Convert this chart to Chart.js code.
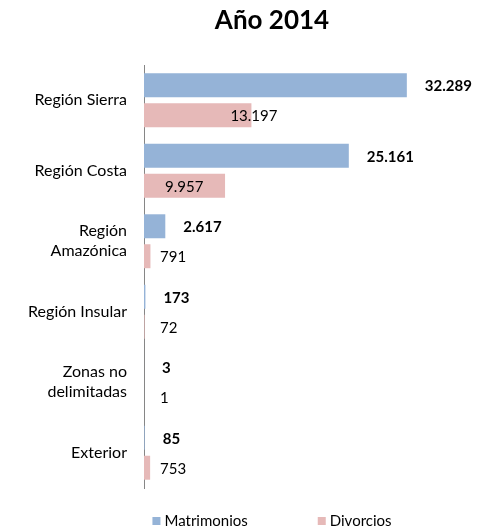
<!DOCTYPE html>
<html>
<head>
<meta charset="utf-8">
<script src="https://cdn.jsdelivr.net/npm/chart.js@4"></script>
<style>
  body { margin: 0; background: #fff; }
  #wrap { width: 481px; height: 531px; }
</style>
</head>
<body>
<div id="wrap"><canvas id="chart" width="481" height="531"></canvas></div>
<script>
// Data
const categories = [
    'Región Sierra',
    'Región Costa',
    ['Región', 'Amazónica'],
    'Región Insular',
    ['Zonas no', 'delimitadas'],
    'Exterior'
];
const matrimonios = [32289, 25161, 2617, 173, 3, 85];
const divorcios = [13197, 9957, 791, 72, 1, 753];
const seriesNames = ['Matrimonios', 'Divorcios'];
const titleText = 'Año 2014';

const BLUE = '#95b3d7';
const PINK = '#e6b9b8';
const FONT = 'Lato, "Open Sans", sans-serif';
const CENTER_X = 272; // title and legend are centred a bit right of the canvas

// 32289 -> "32.289"
function fmt(v) {
    return String(v).replace(/\B(?=(\d{3})+(?!\d))/g, '.');
}

// Title, legend and value labels drawn by hand
const decorations = {
    id: 'decorations',
    afterDatasetsDraw(chart) {
        const ctx = chart.ctx;
        const axisX = chart.scales.x.getPixelForValue(0);
        ctx.save();
        ctx.fillStyle = '#000';
        ctx.textBaseline = 'middle';
        ctx.textAlign = 'left';

        chart.data.datasets.forEach((ds, di) => {
            const meta = chart.getDatasetMeta(di);
            ctx.font = (di === 0 ? 'bold ' : '') + '15px ' + FONT;
            meta.data.forEach((bar, i) => {
                let x;
                if (di === 0) {
                    x = bar.x + 18;
                } else {
                    const w = bar.x - axisX;
                    x = w > 100 ? bar.x - 21 : (w > 50 ? axisX + 21 : axisX + 16);
                }
                ctx.fillText(fmt(ds.data[i]), x, bar.y + 1);
            });
        });

        // title
        ctx.textAlign = 'center';
        ctx.font = 'bold 26px ' + FONT;
        ctx.fillText(titleText, CENTER_X, 21);

        // legend
        ctx.font = '15px ' + FONT;
        ctx.textAlign = 'left';
        const colors = [BLUE, PINK];
        const box = 8, gapText = 4, gapItem = 70;
        const widths = seriesNames.map(n => box + gapText + ctx.measureText(n).width);
        const total = widths[0] + gapItem + widths[1];
        let lx = CENTER_X - total / 2;
        const ly = 521;
        seriesNames.forEach((n, i) => {
            ctx.fillStyle = colors[i];
            ctx.fillRect(lx, ly - box / 2, box, box);
            ctx.fillStyle = '#000';
            ctx.fillText(n, lx + box + gapText, ly);
            lx += widths[i] + gapItem;
        });
        ctx.restore();
    }
};

new Chart(document.getElementById('chart').getContext('2d'), {
    type: 'bar',
    data: {
        labels: categories,
        datasets: [
            {
                label: seriesNames[0],
                data: matrimonios,
                backgroundColor: BLUE,
                categoryPercentage: 0.85,
                barPercentage: 0.8
            },
            {
                label: seriesNames[1],
                data: divorcios,
                backgroundColor: PINK,
                categoryPercentage: 0.85,
                barPercentage: 0.8
            }
        ]
    },
    options: {
        indexAxis: 'y',
        responsive: false,
        animation: false,
        layout: { padding: { top: 65, bottom: 43, left: 0, right: 0 } },
        plugins: {
            legend: { display: false },
            title: { display: false },
            tooltip: { enabled: false }
        },
        scales: {
            x: {
                display: false,
                min: 0,
                max: 41400
            },
            y: {
                afterFit(scale) { scale.width = 144; },
                grid: { display: false, drawTicks: false },
                border: { display: true, color: '#868686', width: 1 },
                ticks: {
                    color: '#000',
                    padding: 17,
                    font: { family: FONT, size: 16, lineHeight: 1.25 }
                }
            }
        }
    },
    plugins: [decorations]
});
</script>
</body>
</html>
